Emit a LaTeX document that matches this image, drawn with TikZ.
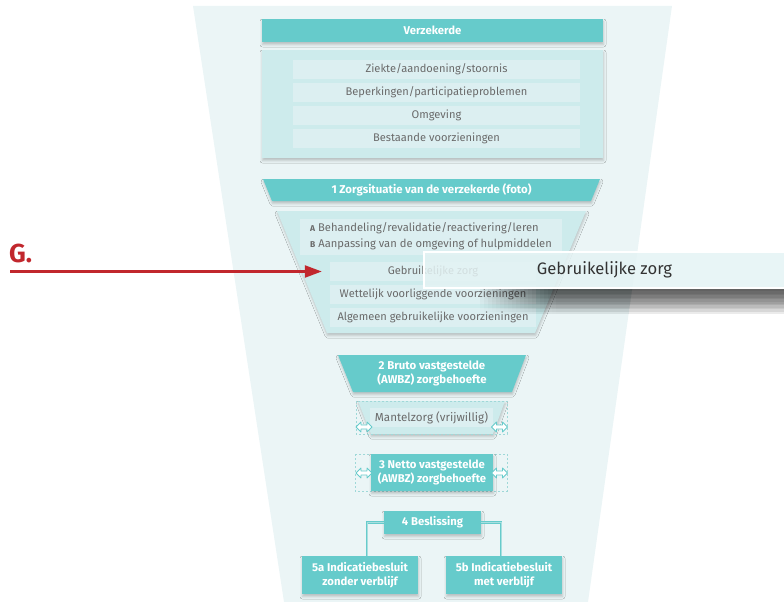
\documentclass[tikz,border=0pt]{standalone}
\usepackage{fontspec}
\setmainfont{Fira Sans}
\usetikzlibrary{shadows.blur,arrows.meta,fadings}
\definecolor{tl}{HTML}{66CBCB}
\definecolor{lb}{HTML}{CDEBEC}
\definecolor{it}{HTML}{DCEFF1}
\definecolor{bgc}{HTML}{EBF5F6}
\definecolor{tx}{HTML}{6A6A6A}
\definecolor{rd}{HTML}{C1272D}
\definecolor{dc}{HTML}{9FD8D8}
\definecolor{tip}{HTML}{E4F3F4}
\definecolor{tlc}{HTML}{A8DFDF}
\newcommand\mydblarrow[2]{\begin{scope}[shift={(#1,#2)}]
\draw[draw=tl, fill=white, line width=0.8pt, line join=round] (-8,0) -- (-3,-5) -- (-3,-2) -- (3,-2) -- (3,-5) -- (8,0) -- (3,5) -- (3,2) -- (-3,2) -- (-3,5) -- cycle;
\end{scope}}
\begin{document}
\begin{tikzpicture}[x=1pt,y=-1pt,
  shd/.style={blur shadow={shadow xshift=0.5pt, shadow yshift=-2.5pt, shadow opacity=22, shadow blur radius=2.5pt}},
  tbox/.style={fill=tl, text=white, font=\bfseries\fontsize{11.3pt}{13.5pt}\selectfont, align=center, inner sep=0pt, shd},
  ttxt/.style={text=white, font=\bfseries\fontsize{11.4pt}{13.5pt}\selectfont, align=center, inner sep=0pt},
  item/.style={fill=it, text=tx, font=\fontsize{11.1pt}{12pt}\selectfont, inner sep=0pt},
  fitem/.style={fill=it, text=tx, font=\fontsize{11.1pt}{12pt}\selectfont, inner sep=0pt},
  dsh/.style={draw=dc, dash pattern=on 2pt off 2pt, line width=0.5pt},
  conn/.style={draw=tl, double=tlc, double distance=0.6pt, line width=0.9pt}
]
\useasboundingbox (0,0) rectangle (784,602);
% background funnel
\fill[bgc] (193,6) -- (672,6) -- (588,602) -- (284,602) -- cycle;

% Verzekerde
\node[tbox, minimum width=341pt, minimum height=23pt] (verz) at (432.5,30.5) {Verzekerde};
\node[fill=lb, shd, minimum width=341pt, minimum height=108pt, inner sep=0pt] (main) at (432.5,104) {};
\node[item, minimum width=287pt, minimum height=19pt] (i1) at (436.5,69.5) {Ziekte/aandoening/stoornis};
\node[item, minimum width=287pt, minimum height=19pt] (i2) at (436.5,92.5) {Beperkingen/participatieproblemen};
\node[item, minimum width=287pt, minimum height=19pt] (i3) at (436.5,115.5) {Omgeving};
\node[item, minimum width=287pt, minimum height=19pt] (i4) at (436.5,138.5) {Bestaande voorzieningen};

% 1 Zorgsituatie
\fill[tl, shd] (263,179) -- (600,179) -- (591,201) -- (272,201) -- cycle;
\node[ttxt] (t1) at (431.5,190) {1 Zorgsituatie van de verzekerde (foto)};

% funnel box
\fill[lb, shd] (277,211) -- (586,211) -- (535,333) -- (327,333) -- cycle;
\node[fill=it, minimum width=262pt, minimum height=36pt, inner sep=0pt] (ab) at (431,237) {};
\node[anchor=west, text=tx, align=left, inner sep=0pt, font=\fontsize{11.2pt}{16pt}\selectfont] (abt) at (310,236.5)
  {{\fontsize{8.5pt}{8pt}\selectfont\bfseries A} Behandeling/revalidatie/reactivering/leren\\{\fontsize{8.5pt}{8pt}\selectfont\bfseries B} Aanpassing van de omgeving of hulpmiddelen};
\node[fitem, minimum width=206pt, minimum height=19pt] (gz) at (433,271.5) {Gebruikelijke zorg};
\node[fitem, minimum width=206pt, minimum height=19pt] (wv) at (433,294.5) {Wettelijk voorliggende voorzieningen};
\node[fitem, minimum width=206pt, minimum height=19pt] (ag) at (433,317.5) {Algemeen gebruikelijke voorzieningen};

% 2 Bruto
\fill[tl, shd] (338,355) -- (526,355) -- (512,392) -- (353,392) -- cycle;
\node[ttxt] (t2) at (432,373.5) {2 Bruto vastgestelde\\(AWBZ) zorgbehoefte};

% Mantelzorg
\fill[lb, shd] (358,401) -- (505,401) -- (493,434) -- (371,434) -- cycle;
\draw[dsh] (356,401) rectangle (507,434);
\node[fitem, minimum width=123pt, minimum height=19pt, font=\fontsize{11.6pt}{12pt}\selectfont] (mz) at (431.5,417.5) {Mantelzorg (vrijwillig)};
\mydblarrow{364}{427}
\mydblarrow{499.5}{427}

% 3 Netto
\draw[dsh] (355,454) rectangle (507,491);
\node[tbox, minimum width=122pt, minimum height=37pt] (b3) at (432,472.5) {3 Netto vastgestelde\\(AWBZ) zorgbehoefte};
\mydblarrow{364}{473}
\mydblarrow{499.5}{473}

% 4 Beslissing
\node[tbox, minimum width=97pt, minimum height=23pt] (b4) at (432.5,522.5) {4 Beslissing};
\node[tbox, minimum width=116pt, minimum height=38pt] (b5a) at (360,575) {5a Indicatiebesluit\\zonder verblijf};
\node[tbox, minimum width=116pt, minimum height=38pt] (b5b) at (504,575) {5b Indicatiebesluit\\met verblijf};
\draw[conn] (b4.west) -| ([xshift=7pt]b5a.north);
\draw[conn] (b4.east) -| ([xshift=-3pt]b5b.north);

% G arrow
\node[anchor=west, text=rd, inner sep=0pt, font=\bfseries\fontsize{26pt}{26pt}\selectfont] (g) at (9,253.5) {G.};
\coordinate (gs) at (10,271.5);
\draw[rd, line width=2.3pt, -{Triangle[length=17pt,width=12pt]}] (gs) -- ([xshift=-8pt]gs -| gz.west);

% tooltip shadow
\foreach \k in {0,...,19} {
  \fill[black, opacity=0.05, path fading=south] (480+4*\k,288) rectangle (784,314);
}
\node[fill=tip, fill opacity=0.85, draw=white, line width=1.2pt, minimum width=363pt, minimum height=36pt, inner sep=0pt] (tt) at (605.5,270) {};
\node[text=black!80, inner sep=0pt, font=\fontsize{16.6pt}{18pt}\selectfont] (ttx) at (604.5,270) {Gebruikelijke zorg};
\end{tikzpicture}
\end{document}
